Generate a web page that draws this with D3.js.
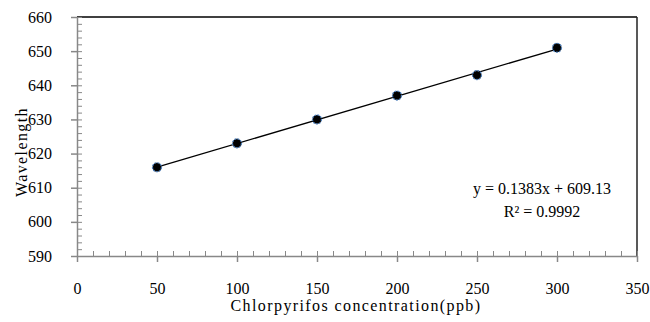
<!DOCTYPE html>
<html>
<head>
<meta charset="utf-8">
<script src="https://cdn.jsdelivr.net/npm/d3@7"></script>
<style>
  body { margin: 0; background: #fff; }
  text { font-family: "Liberation Serif", "Times New Roman", serif; fill: #000; }
</style>
</head>
<body>
<div id="chart"></div>
<script>
// datos
const concentration = [50, 100, 150, 200, 250, 300]
const wavelength = [616, 623, 630, 637, 643, 651]
const xTicks = [0, 50, 100, 150, 200, 250, 300, 350]
const yTicks = [590, 600, 610, 620, 630, 640, 650, 660]
const slope = 0.1383, intercept = 609.13
const eqLabel = "y = 0.1383x + 609.13"
const r2Label = "R² = 0.9992"

const width = 650, height = 322
const margins = { top: 17, bottom: 66, left: 77, right: 13 }
const innerW = width - margins.left - margins.right
const innerH = height - margins.top - margins.bottom

const svg = d3.select("#chart").append("svg").attr("width", width).attr("height", height)
const g = svg.append("g").attr("transform", `translate(${margins.left},${margins.top})`)

const x = d3.scaleLinear().domain([0, 350]).range([0, innerW])
const y = d3.scaleLinear().domain([590, 660]).range([innerH, 0])

// borde superior y derecho
g.append("line").attr("x1", 0).attr("x2", innerW).attr("y1", 0).attr("y2", 0)
  .attr("stroke", "#000").attr("stroke-width", 1.5)
g.append("line").attr("x1", innerW).attr("x2", innerW).attr("y1", 0).attr("y2", innerH)
  .attr("stroke", "#222").attr("stroke-width", 1.5)

// ticks menores
g.append("g").attr("transform", `translate(0,${innerH})`)
  .call(d3.axisTop(x).tickValues(d3.range(0, 351, 10)).tickSize(5).tickFormat(""))
  .call(a => a.select(".domain").remove())
  .selectAll("line").attr("stroke", "#888")
g.append("g")
  .call(d3.axisRight(y).tickValues(d3.range(590, 661, 2)).tickSize(5).tickFormat(""))
  .call(a => a.select(".domain").remove())
  .selectAll("line").attr("stroke", "#888")

// ejes principales
const gx = g.append("g").attr("transform", `translate(0,${innerH})`)
  .call(d3.axisBottom(x).tickValues(xTicks).tickSize(6).tickPadding(21).tickSizeOuter(0))
const gy = g.append("g")
  .call(d3.axisLeft(y).tickValues(yTicks).tickSize(6).tickPadding(19).tickSizeOuter(0))
;[gx, gy].forEach(a => {
  a.select(".domain").attr("stroke", "#888").attr("stroke-width", 1.5)
  a.selectAll("line").attr("stroke", "#888").attr("stroke-width", 1.5)
  a.selectAll("text").style("font-size", "16px").attr("fill", "#000")
})

// linea de tendencia
g.append("line")
  .attr("x1", x(50)).attr("y1", y(slope * 50 + intercept))
  .attr("x2", x(300)).attr("y2", y(slope * 300 + intercept))
  .attr("stroke", "#000").attr("stroke-width", 1.3)

// puntos
g.selectAll("circle").data(concentration).enter().append("circle")
  .attr("cx", d => x(d))
  .attr("cy", (d, i) => y(wavelength[i]))
  .attr("r", 4.5)
  .attr("fill", "#000")
  .attr("stroke", "#4f81bd")
  .attr("stroke-width", 1.2)
  .attr("stroke-dasharray", "2,1")

// ecuacion
svg.append("text").attr("x", 542).attr("y", 194).attr("text-anchor", "middle")
  .style("font-size", "16px").text(eqLabel)
svg.append("text").attr("x", 542).attr("y", 217).attr("text-anchor", "middle")
  .style("font-size", "16px").text(r2Label)

// titulos de ejes
svg.append("text").attr("x", 356).attr("y", 311).attr("text-anchor", "middle")
  .style("font-size", "16px").style("letter-spacing", "1.4px").text("Chlorpyrifos concentration(ppb)")
svg.append("text").attr("transform", "translate(27,152) rotate(-90)").attr("text-anchor", "middle")
  .style("font-size", "16px").style("letter-spacing", "1.4px").text("Wavelength")
</script>
</body>
</html>
